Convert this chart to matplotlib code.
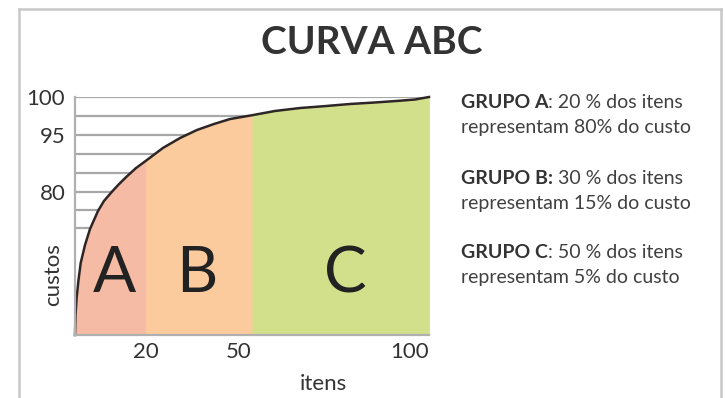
import numpy as np
import matplotlib
matplotlib.use("Agg")
import matplotlib.pyplot as plt
from matplotlib.lines import Line2D

# curve (% of items -> cumulative % of cost)
itens = [0, 0.14, 0.48, 0.99, 1.61, 2.82, 4.24, 6.5, 8.19, 10.37, 12.15, 14.41, 17.23, 20,
         24.86, 29.66, 34.46, 39.27, 43.79, 50, 56.5, 63.56, 70.6, 77.68, 84.75, 91.8, 96.05, 100]
custos = [0, 11.2, 21.3, 30.8, 40.3, 50.3, 59.3, 69.4, 75.0, 80, 81.8, 83.9, 86.3, 88.2,
          91.6, 94.2, 95.66, 96.45, 97.1, 97.6, 98.16, 98.55, 98.8, 99.08, 99.28, 99.51, 99.67, 100]

grupos = ["A", "B", "C"]
limites = [0, 20, 50, 100]
cores = ["#F6BBA4", "#FBCB9D", "#D3E08B"]

x_ticks = [20, 50, 100]
y_ticks = [100, 95, 80]
grid_levels = [100, 97.5, 95, 90, 85, 80, 70, 60]

# schematic (non linear) cost axis
y_knots = [0, 80, 95, 100]
v_knots = [0, 143, 200, 238]

textos = [
    ("GRUPO A", ": 20 % dos itens", "representam 80% do custo"),
    ("GRUPO B:", " 30 % dos itens", "representam 15% do custo"),
    ("GRUPO C", ": 50 % dos itens", "representam 5% do custo"),
]

plt.rcParams["font.family"] = ["Lato", "DejaVu Sans"]

fig = plt.figure(figsize=(7.25, 3.98), dpi=100)
ax = fig.add_axes([75 / 725, 63 / 398, 354 / 725, 238 / 398])

fwd = lambda y: np.interp(y, y_knots, v_knots)
inv = lambda v: np.interp(v, v_knots, y_knots)
ax.set_yscale("function", functions=(fwd, inv))
ax.set_xlim(0, 100)
ax.set_ylim(0, 100)

for g in grid_levels:
    ax.axhline(g, color="#a8a8a8", lw=1.6, zorder=1)

x = np.array(itens)
y = np.array(custos)
# each group painted from its left limit to the end, the next one on top
letra_dx = [1, -0.5, 1.3]
for i, (g, c) in enumerate(zip(grupos, cores)):
    lo, hi = limites[i], limites[i + 1]
    m = x >= lo
    ax.fill_between(x[m], 0, y[m], color=c, lw=0, zorder=2 + i * 0.1)
    ax.text((lo + hi) / 2 + letra_dx[i], 34, g, fontsize=46, color="#222222",
            ha="center", va="center", zorder=4)

ax.plot(x, y, color="#2e2626", lw=1.8, zorder=3, clip_on=False)

for s in ["top", "right"]:
    ax.spines[s].set_visible(False)
for s in ["left", "bottom"]:
    ax.spines[s].set_color("#b0b0b0")
    ax.spines[s].set_linewidth(1.6)
    ax.spines[s].set_zorder(5)

ax.set_yticks(y_ticks)
ax.set_yticklabels([str(t) for t in y_ticks])
ax.set_xticks(x_ticks)
ax.set_xticklabels([str(t) for t in x_ticks])
ax.tick_params(axis="both", length=0, labelsize=16, colors="#333333")
ax.tick_params(axis="y", pad=7)
ax.tick_params(axis="x", pad=5)
xl = ax.get_xticklabels()
xl[1].set_ha("right")
xl[1].set_x(51)
xl[2].set_ha("right")

ax.set_ylabel("custos", fontsize=16, color="#333333")
ax.yaxis.label.set_va("center")
ax.yaxis.set_label_coords(-22 / 354, 60 / 238)
ax.set_xlabel("itens", fontsize=16, color="#333333")
ax.xaxis.label.set_va("center")
ax.xaxis.set_label_coords((323 - 75) / 354, -49 / 238)

fig.text(372 / 725, 1 - 43 / 398, "CURVA ABC", fontsize=28, fontweight="bold",
         color="#333333", ha="center", va="center")

# group descriptions on the right
for k, (neg, resto, linha2) in enumerate(textos):
    yc = 1 - (103 + 75 * k) / 398
    t = fig.text(461 / 725, yc, neg, fontsize=14, fontweight="bold", color="#333333",
                 va="center", ha="left")
    ax.annotate(resto, xy=(1, 0), xycoords=t, va="bottom", ha="left",
                fontsize=14, color="#404040", annotation_clip=False)
    fig.text(461 / 725, 1 - (128 + 75 * k) / 398, linha2, fontsize=14, color="#404040",
             va="center", ha="left")

# light frame around the picture
frame = dict(color="#c8c8c8", lw=1.8, transform=fig.transFigure)
fig.add_artist(Line2D([19 / 725, 721 / 725], [1 - 9 / 398] * 2, **frame))
fig.add_artist(Line2D([19 / 725] * 2, [0, 1 - 9 / 398], **frame))
fig.add_artist(Line2D([721 / 725] * 2, [0, 1 - 9 / 398], **frame))

fig.savefig("out.png", dpi=100, facecolor="white")
